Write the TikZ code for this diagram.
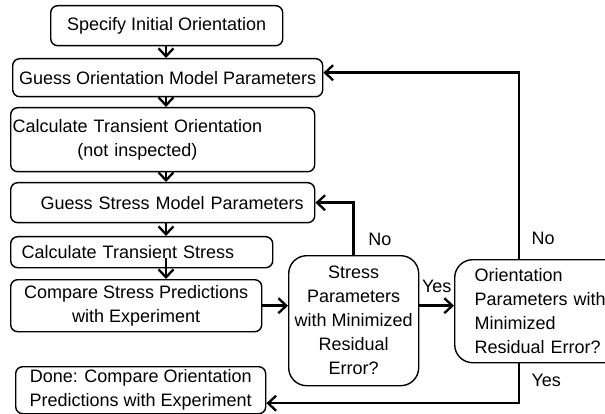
\documentclass[tikz,border=0pt]{standalone}
\usepackage{fontspec}
\setmainfont{Liberation Sans}
\usetikzlibrary{arrows.meta}

\begin{document}
\begin{tikzpicture}[x=1pt, y=-1pt,
        box/.style  = {draw, line width=1.4pt, rounded corners=7pt, anchor=north west,
                       inner sep=0pt, font=\fontsize{18}{24}\selectfont},
        dec/.style  = {box, rounded corners=18pt},
        flow/.style = {line width=2.5pt, -{Straight Barb[length=8pt, width=15pt, line width=2.3pt]}},
        tag/.style  = {font=\fontsize{18}{24}\selectfont}]
            \useasboundingbox (0,0) rectangle (605,414);
            \coordinate (spine) at (166,0);

            \node[box, minimum width=232, minimum height=40]                                  (spec)     at ( 50,  5) {Specify Initial Orientation};
            \node[box, minimum width=310, minimum height=38]                                  (guessori) at ( 12, 58) {Guess Orientation Model Parameters};
            \node[box, text width=300, inner xsep=2pt, minimum height=64, align=left]         (calcori)  at ( 10,107)
                 {\begin{tabular}{@{}c@{}}Calculate Transient Orientation\\(not inspected)\end{tabular}};
            \node[box, text width=282, inner xsep=11pt, minimum height=40, align=right]       (guessstr) at ( 10,182) {Guess Stress Model Parameters};
            \node[box, text width=240, inner xsep=11pt, minimum height=31, align=left]        (calcstr)  at ( 10,236) {Calculate Transient Stress};
            \node[box, minimum width=251, minimum height=52, align=center]                    (cmpstr)   at ( 10,279) {Compare Stress Predictions\\with Experiment};
            \node[box, minimum width=250, minimum height=47, align=center]                    (done)     at ( 15,366) {Done: Compare Orientation\\Predictions with Experiment};
            \node[dec, minimum width=130, minimum height=130, align=center]                   (strdec)   at (288,255) {Stress\\Parameters\\with Minimized\\Residual\\Error?};
            \node[dec, text width=137, inner xsep=20pt, minimum height=103, align=left]       (oridec)   at (454,259) {Orientation\\Parameters with\\Minimized\\Residual Error?};

            % main column
            \draw[flow] (spec.south     -| spine) -- (guessori.north -| spine);
            \draw[flow] (guessori.south -| spine) -- (calcori.north  -| spine);
            \draw[flow] (calcori.south  -| spine) -- (guessstr.north -| spine);
            \draw[flow] (guessstr.south -| spine) -- (calcstr.north  -| spine);
            \draw[flow, shorten <=-10pt] (calcstr.south -| spine) -- (cmpstr.north -| spine);

            % decisions
            \draw[flow] (cmpstr.east) -- (cmpstr.east -| strdec.west);
            \draw[flow] (cmpstr.east -| strdec.east) -- (cmpstr.east -| oridec.west)
                 node[tag, midway, above=8pt] (yesori) {Yes};
            \draw[flow] (strdec.north) |- (guessstr.east)
                 node[tag, pos=0.15, right=10pt] (nostr) {No};
            \draw[flow] ([xshift=65pt]oridec.north west) |- ([yshift=5pt]guessori.east)
                 node[tag, pos=0.055, right=8pt] (noori) {No};
            \draw[flow] ([xshift=65pt]oridec.south west) |- ([yshift=-13pt]done.east)
                 node[tag, pos=0.21, right=8pt] (yesdone) {Yes};
        \end{tikzpicture}
\end{document}
